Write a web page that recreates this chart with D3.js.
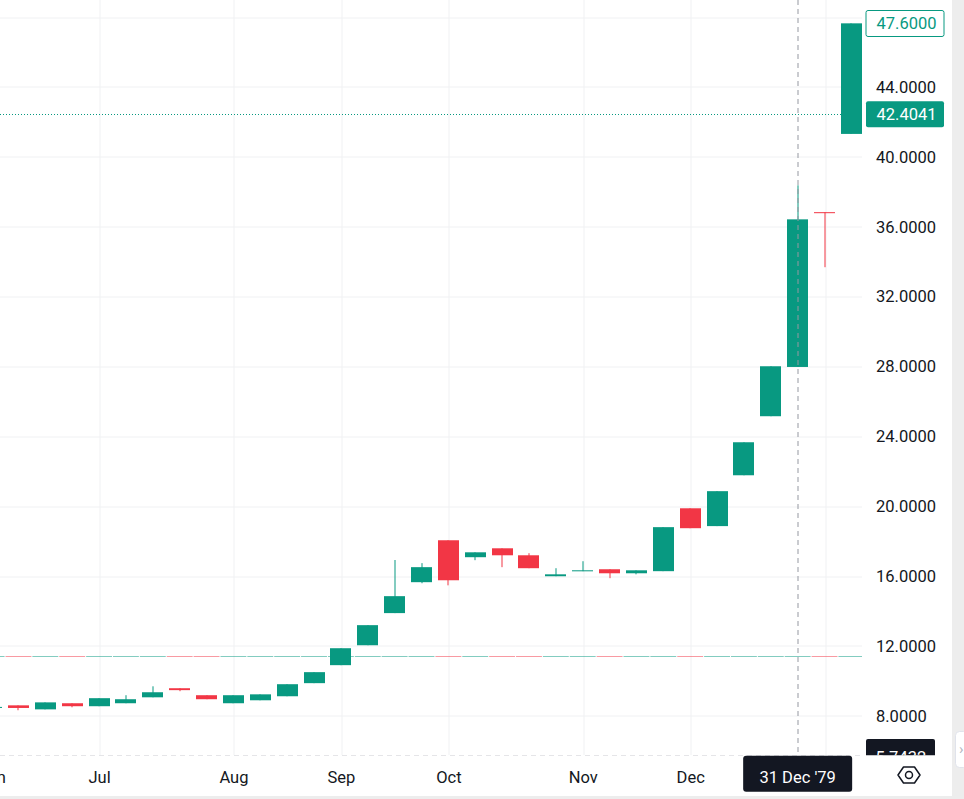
<!DOCTYPE html>
<html>
<head>
<meta charset="utf-8">
<script src="https://cdn.jsdelivr.net/npm/d3@7"></script>
<style>
  html, body { margin: 0; padding: 0; background: #ffffff; overflow: hidden; }
  svg { display: block; font-family: Roboto, 'Liberation Sans', sans-serif; }
</style>
</head>
<body>
<svg id="chart" width="964" height="799"></svg>
<script>
// ---- data (weekly bars) ----
const dates = ["1979-06-04","1979-06-11","1979-06-18","1979-06-25","1979-07-02","1979-07-09","1979-07-16","1979-07-23","1979-07-30","1979-08-06","1979-08-13","1979-08-20","1979-08-27","1979-09-03","1979-09-10","1979-09-17","1979-09-24","1979-10-01","1979-10-08","1979-10-15","1979-10-22","1979-10-29","1979-11-05","1979-11-12","1979-11-19","1979-11-26","1979-12-03","1979-12-10","1979-12-17","1979-12-24","1979-12-31","1980-01-07","1980-01-14"];
const opens  = [8.43,8.57,8.34,8.69,8.52,8.69,9.03,9.55,9.15,8.69,8.86,9.09,9.84,10.87,12.01,13.85,15.62,18.02,17.05,17.56,17.16,15.96,16.25,16.36,16.13,16.25,19.85,18.83,21.74,25.12,27.94,36.80,41.28];
const highs  = [8.48,8.57,8.74,8.69,8.98,9.15,9.66,9.55,9.15,9.15,9.20,9.78,10.47,11.84,13.16,16.89,16.71,18.02,17.33,17.56,17.28,16.42,16.82,16.36,16.30,18.77,19.85,20.83,23.63,27.98,38.34,36.80,47.61];
const lows   = [8.43,8.29,8.34,8.46,8.52,8.69,9.03,9.38,8.92,8.69,8.86,9.09,9.84,10.87,12.01,13.85,15.56,15.44,16.88,16.48,16.42,15.96,16.25,15.85,16.07,16.25,18.71,18.83,21.74,25.12,27.94,33.65,41.28];
const closes = [8.48,8.42,8.74,8.52,8.98,8.92,9.32,9.44,8.92,9.15,9.20,9.78,10.47,11.84,13.16,14.82,16.48,15.73,17.33,17.16,16.42,16.07,16.30,16.13,16.30,18.77,18.71,20.83,23.63,27.98,36.39,36.76,47.61];
const refLevel = 11.37;          // coloured per-bar horizontal plot
const lastPrice = 42.4041;
const highLabel = 47.6;
const crossDate = "1979-12-31";
const crossPrice = 5.7432;
const crossDateLabel = "31 Dec '79";
const priceTicks = [8,12,16,20,24,28,32,36,40,44];
const gridTicks = [8,12,16,20,24,28,32,36,40,44,48];
const monthGridDates = ["1979-06-04","1979-07-02","1979-08-06","1979-09-03","1979-10-01","1979-11-05","1979-12-03","1980-01-07"];
const monthTickDates = ["1979-06-04","1979-07-02","1979-08-06","1979-09-03","1979-10-01","1979-11-05","1979-12-03"];
const monthTickLabels = ["Jun","Jul","Aug","Sep","Oct","Nov","Dec"];

// ---- styles ----
const UP = "#089981", DOWN = "#F23645";
const GRID = "#f0f1f3", TEXT = "#131722";
const plotW = 862, plotH = 755.5, W = 964, H = 799;

const bars = dates.map((d,i) => ({d, o:opens[i], h:highs[i], l:lows[i], c:closes[i]}));

const x = d3.scalePoint().domain(dates).range([-8.4, 851.4]);
const y = d3.scaleLinear().domain([8, 44]).range([715.3, 86.4]);
const step = x.step();
const bodyW = 21;

const svg = d3.select("#chart");
svg.append("rect").attr("width", W).attr("height", H).attr("fill", "#fff");

const defs = svg.append("defs");
defs.append("clipPath").attr("id","plotClip").append("rect")
  .attr("x",0).attr("y",0).attr("width",plotW).attr("height",plotH);
defs.append("clipPath").attr("id","paneClip").append("rect")
  .attr("x",0).attr("y",0).attr("width",952).attr("height",plotH);

const plot = svg.append("g").attr("clip-path","url(#plotClip)");

// grid via axes
const gy = plot.append("g").attr("class","grid-y")
  .call(d3.axisLeft(y).tickValues(gridTicks).tickSize(-plotW).tickFormat(""));
gy.select(".domain").remove();
gy.selectAll("line").attr("stroke", GRID).attr("stroke-width",1)
  .attr("transform", d => `translate(0,${(Math.round(y(d))+0.5) - y(d)})`);

const gx = plot.append("g").attr("class","grid-x")
  .call(d3.axisTop(x).tickValues(monthGridDates).tickSize(-plotH).tickFormat(""));
gx.select(".domain").remove();
gx.selectAll("line").attr("stroke", GRID).attr("stroke-width",1)
  .attr("transform", d => `translate(${(Math.round(x(d))+0.5) - x(d)},0)`);

// coloured reference level plot
const refY = Math.round(y(refLevel)) + 0.5;
plot.append("g").selectAll("line").data(bars).join("line")
  .attr("x1", b => x(b.d) - step/2 + 0.5)
  .attr("x2", b => x(b.d) + step/2 - 0.5)
  .attr("y1", refY).attr("y2", refY)
  .attr("stroke", b => b.c >= b.o ? UP : DOWN)
  .attr("stroke-opacity", 0.5)
  .attr("stroke-width", 1);

// last price dotted line
const lpY = Math.round(y(lastPrice)) + 0.5;
plot.append("line").attr("x1",0).attr("x2",plotW).attr("y1",lpY).attr("y2",lpY)
  .attr("stroke", UP).attr("stroke-width",1).attr("stroke-dasharray","1,2");

// candles
const cg = plot.append("g").selectAll("g").data(bars).join("g")
  .attr("fill", b => b.c >= b.o ? UP : DOWN);
cg.append("rect") // wick
  .attr("x", b => Math.round(x(b.d)) - 0.5)
  .attr("width", 1)
  .attr("y", b => y(b.h))
  .attr("height", b => Math.max(1, y(b.l) - y(b.h)));
cg.append("rect") // body
  .attr("x", b => Math.round(x(b.d) - bodyW/2))
  .attr("width", bodyW)
  .attr("y", b => y(Math.max(b.o,b.c)))
  .attr("height", b => Math.max(1, Math.abs(y(b.o) - y(b.c))));

// crosshair
const cx = Math.round(x(crossDate));
const cy = Math.round(y(crossPrice)) + 0.5;
plot.append("line").attr("x1",cx).attr("x2",cx).attr("y1",0).attr("y2",plotH)
  .attr("stroke","#9598a1").attr("stroke-width",1).attr("stroke-dasharray","5,4");
plot.append("line").attr("x1",0).attr("x2",plotW).attr("y1",cy).attr("y2",cy)
  .attr("stroke","#9598a1").attr("stroke-width",1).attr("stroke-dasharray","5,4");

// ---- price axis ----
const pa = svg.append("g").attr("clip-path","url(#paneClip)");
const yAxis = pa.append("g").attr("transform", `translate(${plotW},0)`)
  .call(d3.axisRight(y).tickValues(priceTicks).tickSize(0).tickPadding(14)
        .tickFormat(d3.format(".4f")));
yAxis.select(".domain").remove();
yAxis.selectAll("text").attr("fill", TEXT).attr("font-size", 16.5)
  .attr("dy","0.36em").attr("text-anchor","start").attr("font-family","Roboto, sans-serif");

function priceLabel(val, opts) {
  const cyv = y(val);
  const g = pa.append("g");
  g.append("rect").attr("x",866).attr("y", opts.top != null ? opts.top : cyv - 13)
    .attr("width", opts.w || 78).attr("height", opts.h || 26).attr("rx",2)
    .attr("fill", opts.fill).attr("stroke", opts.stroke || "none").attr("stroke-width",1);
  g.append("text").attr("x", opts.tx || 876.5).attr("y", opts.ty != null ? opts.ty : cyv)
    .attr("dy","0.36em").attr("fill", opts.color).attr("font-size",16.5)
    .text(opts.text || d3.format(".4f")(val));
}
priceLabel(highLabel, {fill:"#fff", stroke:UP, color:UP});
priceLabel(lastPrice, {fill:UP, color:"#fff"});
priceLabel(crossPrice, {fill:TEXT, color:"#fff", top:739, h:32, w:69, ty:757, tx:875.5});

// ---- time axis ----
svg.append("rect").attr("x",0).attr("y",plotH).attr("width",952).attr("height",796-plotH).attr("fill","#fff");
const xAxis = svg.append("g").attr("transform","translate(0,783)")
  .call(d3.axisBottom(x).tickValues(monthTickDates).tickSize(0).tickPadding(0)
        .tickFormat((d,i) => monthTickLabels[i]));
xAxis.select(".domain").remove();
xAxis.selectAll("text").attr("fill", TEXT).attr("font-size",16.5).attr("dy",0)
  .attr("font-family","Roboto, sans-serif");

// crosshair time label
svg.append("rect").attr("x", x(crossDate) - 54.5).attr("y",755.7).attr("width",109).attr("height",36)
  .attr("rx",3).attr("fill",TEXT);
svg.append("text").attr("x", x(crossDate)).attr("y",783).attr("text-anchor","middle")
  .attr("fill","#fff").attr("font-size",16.5).text(crossDateLabel);

// settings icon
const hx = 909, hy = 775;
svg.append("polygon")
  .attr("points", [[hx-11,hy],[hx-5.5,hy-8],[hx+5.5,hy-8],[hx+11,hy],[hx+5.5,hy+8],[hx-5.5,hy+8]].map(p=>p.join(",")).join(" "))
  .attr("fill","none").attr("stroke",TEXT).attr("stroke-width",1.5).attr("stroke-linejoin","round");
svg.append("circle").attr("cx",hx).attr("cy",hy).attr("r",3.5)
  .attr("fill","none").attr("stroke",TEXT).attr("stroke-width",1.5);

// frame: bottom border and right strip
svg.append("rect").attr("x",0).attr("y",796).attr("width",W).attr("height",3).attr("fill","#ededed");
svg.append("rect").attr("x",952).attr("y",0).attr("width",12).attr("height",H).attr("fill","#ededed");
svg.append("rect").attr("x",955.5).attr("y",731.5).attr("width",12).attr("height",36).attr("rx",4)
  .attr("fill","#fff").attr("stroke","#e0e3eb");
svg.append("text").attr("x",959).attr("y",754).attr("fill","#b2b5be").attr("font-size",15).text("›");
</script>
</body>
</html>
